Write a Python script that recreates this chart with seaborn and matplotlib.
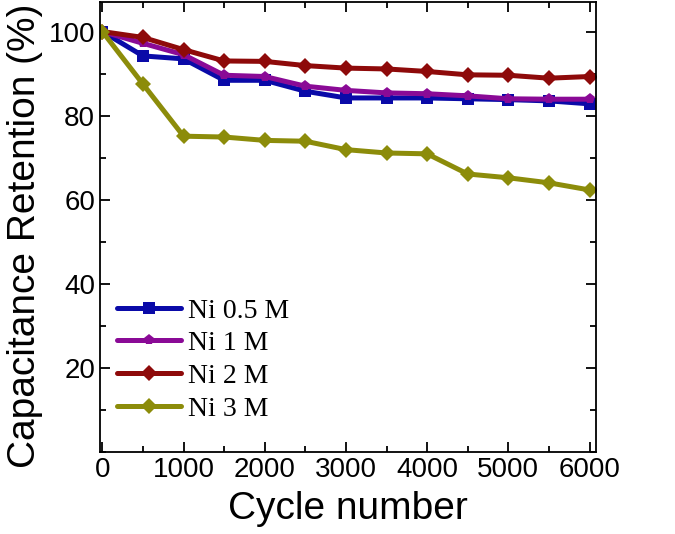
import matplotlib
matplotlib.use("Agg")

import matplotlib.pyplot as plt
from matplotlib.ticker import MultipleLocator
import seaborn as sns
import pandas as pd

# Data
cycles = [0, 500, 1000, 1500, 2000, 2500, 3000, 3500, 4000, 4500, 5000, 5500, 6000]
ni_05 = [100, 94.2, 93.5, 88.4, 88.4, 85.8, 84.2, 84.2, 84.2, 84.0, 83.8, 83.5, 82.8]
ni_1 = [100, 97.2, 94.5, 89.6, 89.3, 87.0, 86.0, 85.4, 85.2, 84.7, 84.0, 83.9, 83.9]
ni_2 = [100, 98.6, 95.7, 93.0, 92.9, 91.9, 91.3, 91.1, 90.5, 89.7, 89.6, 88.9, 89.3]
ni_3 = [100, 87.5, 75.1, 74.9, 74.1, 73.9, 71.9, 71.1, 70.9, 66.1, 65.2, 64.0, 62.3]

labels = ["Ni 0.5 M", "Ni 1 M", "Ni 2 M", "Ni 3 M"]
colors = ["#0A0AA8", "#8A0A96", "#8E0A0A", "#8C8C0A"]
markers = ["s", "p", "D", "D"]


def main():
    sns.set_style("ticks")
    plt.rcParams["font.family"] = ["Liberation Sans", "DejaVu Sans"]
    plt.rcParams["text.color"] = "black"
    plt.rcParams["axes.labelcolor"] = "black"
    plt.rcParams["xtick.color"] = "black"
    plt.rcParams["ytick.color"] = "black"

    frames = []
    for lab, vals in zip(labels, [ni_05, ni_1, ni_2, ni_3]):
        frames.append(pd.DataFrame({"cycle": cycles, "retention": vals, "sample": lab}))
    df = pd.concat(frames, ignore_index=True)

    fig = plt.figure(figsize=(6.75, 5.34), dpi=100)
    ax = fig.add_axes([0.148, 0.154, 0.735, 0.842])

    sns.lineplot(
        data=df, x="cycle", y="retention", hue="sample", style="sample",
        hue_order=labels, style_order=labels,
        palette=dict(zip(labels, colors)), markers=dict(zip(labels, markers)),
        dashes=False, linewidth=3.6, markersize=8, markeredgewidth=0, ax=ax,
    )

    ax.set_xlim(-30, 6080)
    ax.set_ylim(0, 107)
    ax.xaxis.set_major_locator(MultipleLocator(1000))
    ax.xaxis.set_minor_locator(MultipleLocator(500))
    ax.set_yticks([20, 40, 60, 80, 100])
    ax.yaxis.set_minor_locator(MultipleLocator(10))
    ax.tick_params(which="both", direction="in", top=True, right=True, width=1.3,
                   colors="black")
    ax.tick_params(which="major", length=7, labelsize=20)
    ax.tick_params(which="minor", length=4)
    for s in ax.spines.values():
        s.set_linewidth(1.3)
        s.set_color("black")

    ax.set_xlabel("Cycle number", fontsize=28, labelpad=6)
    ax.set_ylabel("Capacitance Retention (%)", fontsize=28)
    ax.yaxis.set_label_coords(-0.115, 0.48)

    ax.legend(
        loc="lower left", frameon=False, bbox_to_anchor=(-0.005, 0.024),
        prop={"family": "Liberation Serif", "size": 20},
        handlelength=2.3, handletextpad=0.25, labelspacing=0.26, borderaxespad=0.3,
    )

    fig.savefig("out.png", dpi=100)
    plt.close(fig)


if __name__ == "__main__":
    main()
